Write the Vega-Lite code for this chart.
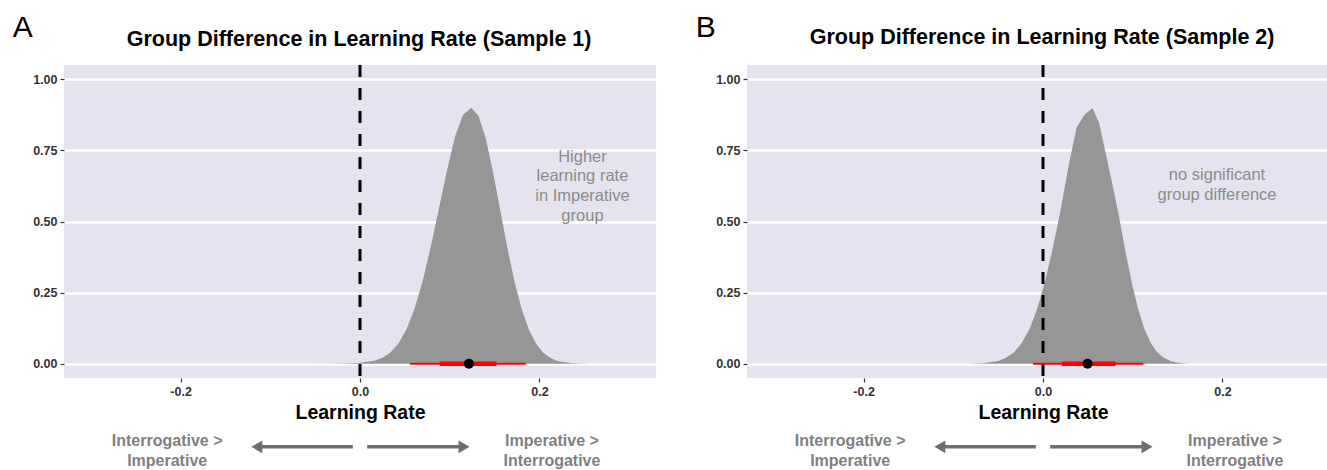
{
  "$schema": "https://vega.github.io/schema/vega-lite/v6.json",
  "background": "white",
  "padding": {"left": 12, "top": 12, "right": 0, "bottom": 0},
  "spacing": 39,
  "config": {
    "view": {"fill": "#e4e3ef", "stroke": null},
    "axis": {"domain": false, "tickColor": "#333333", "tickSize": 4, "tickWidth": 1.2, "labelColor": "#333333", "labelFont": "Liberation Sans", "labelFontSize": 12.5, "labelFontWeight": "bold", "labelPadding": 3, "titleFont": "Liberation Sans", "titleFontSize": 19.5, "titleFontWeight": "bold", "titleColor": "black"},
    "axisX": {"grid": false, "titlePadding": 6},
    "axisY": {"grid": true, "gridColor": "white", "gridWidth": 2.5}
  },
  "hconcat": [
    {
      "width": 592, "height": 313,
      "layer": [
        {
          "data": {"values": [
            {"x": -0.05, "density": 0.0}, {"x": -0.02, "density": 0.001}, {"x": -0.002, "density": 0.003}, {"x": 0.016, "density": 0.011}, {"x": 0.025, "density": 0.021}, {"x": 0.034, "density": 0.04}, {"x": 0.043, "density": 0.072}, {"x": 0.052, "density": 0.122}, {"x": 0.061, "density": 0.195}, {"x": 0.07, "density": 0.292}, {"x": 0.079, "density": 0.412}, {"x": 0.088, "density": 0.546}, {"x": 0.097, "density": 0.679}, {"x": 0.106, "density": 0.8}, {"x": 0.115, "density": 0.875}, {"x": 0.124, "density": 0.9}, {"x": 0.132, "density": 0.872}, {"x": 0.14, "density": 0.794}, {"x": 0.148, "density": 0.679}, {"x": 0.156, "density": 0.546}, {"x": 0.164, "density": 0.412}, {"x": 0.172, "density": 0.292}, {"x": 0.18, "density": 0.195}, {"x": 0.188, "density": 0.122}, {"x": 0.196, "density": 0.072}, {"x": 0.204, "density": 0.04}, {"x": 0.212, "density": 0.021}, {"x": 0.22, "density": 0.01}, {"x": 0.236, "density": 0.002}, {"x": 0.258, "density": 0.0}
          ]},
          "mark": {"type": "area", "color": "#969696", "opacity": 1},
          "encoding": {
            "x": {"field": "x", "type": "quantitative", "scale": {"domain": [-0.33, 0.33], "nice": false, "zero": false}, "axis": {"values": [-0.2, 0, 0.2], "labelExpr": "(datum.value < 0 ? '-' : '') + format(abs(datum.value), '.1f')"}, "title": "Learning Rate"},
            "y": {"field": "density", "type": "quantitative", "stack": null, "scale": {"domain": [-0.05, 1.05], "nice": false, "zero": false}, "axis": {"values": [0, 0.25, 0.5, 0.75, 1], "format": ".2f"}, "title": null},
            "y2": {"datum": 0}
          }
        },
        {
          "data": {"values": [{"x": 0}]},
          "mark": {"type": "rule", "color": "black", "strokeWidth": 3, "strokeDash": [12, 11]},
          "encoding": {"x": {"field": "x", "type": "quantitative"}}
        },
        {
          "data": {"values": [{"lo": 0.0556, "hi": 0.185, "level": "95%"}, {"lo": 0.0889, "hi": 0.152, "level": "66%"}]},
          "mark": {"type": "rule", "color": "#ff0000"},
          "encoding": {
            "x": {"field": "lo", "type": "quantitative"}, "x2": {"field": "hi"},
            "y": {"datum": 0},
            "strokeWidth": {"field": "level", "type": "nominal", "scale": {"domain": ["95%", "66%"], "range": [2, 4.5]}, "legend": null}
          }
        },
        {
          "data": {"values": [{"median": 0.1215, "y": 0}]},
          "mark": {"type": "circle", "color": "black", "opacity": 1, "size": 100},
          "encoding": {"x": {"field": "median", "type": "quantitative"}, "y": {"field": "y", "type": "quantitative"}}
        },
        {
          "data": {"values": [{"x": 0.248, "y": 0.727, "label": "Higher"}, {"x": 0.248, "y": 0.66, "label": "learning rate"}, {"x": 0.248, "y": 0.59, "label": "in Imperative"}, {"x": 0.248, "y": 0.52, "label": "group"}]},
          "mark": {"type": "text", "font": "Liberation Sans", "fontSize": 16.5, "color": "#8c8c8c", "align": "center", "baseline": "middle"},
          "encoding": {"x": {"field": "x", "type": "quantitative"}, "y": {"field": "y", "type": "quantitative"}, "text": {"field": "label"}}
        },
        {
          "data": {"values": [{"x": -0.215, "y": -0.271, "label": "Interrogative >"}, {"x": -0.215, "y": -0.342, "label": "Imperative"}, {"x": 0.214, "y": -0.271, "label": "Imperative >"}, {"x": 0.214, "y": -0.342, "label": "Interrogative"}]},
          "mark": {"type": "text", "font": "Liberation Sans", "fontSize": 16, "fontWeight": "bold", "color": "#7f7f7f", "align": "center", "baseline": "middle"},
          "encoding": {"x": {"field": "x", "type": "quantitative"}, "y": {"field": "y", "type": "quantitative"}, "text": {"field": "label"}}
        },
        {
          "data": {"values": [{"x": -0.008, "x2": -0.115, "y": -0.292}, {"x": 0.008, "x2": 0.116, "y": -0.292}]},
          "mark": {"type": "rule", "color": "#6e6e6e", "strokeWidth": 3.5},
          "encoding": {"x": {"field": "x", "type": "quantitative"}, "x2": {"field": "x2"}, "y": {"field": "y", "type": "quantitative"}}
        },
        {
          "data": {"values": [{"x": -0.115, "y": -0.292, "dir": "left"}, {"x": 0.116, "y": -0.292, "dir": "right"}]},
          "mark": {"type": "point", "filled": true, "color": "#6e6e6e", "opacity": 1, "size": 160},
          "encoding": {"x": {"field": "x", "type": "quantitative"}, "y": {"field": "y", "type": "quantitative"}, "shape": {"field": "dir", "type": "nominal", "scale": {"domain": ["left", "right"], "range": ["triangle-left", "triangle-right"]}, "legend": null}}
        },
        {
          "data": {"values": [{"x": -0.001, "y": 1.138, "label": "Group Difference in Learning Rate (Sample 1)"}]},
          "mark": {"type": "text", "font": "Liberation Sans", "fontSize": 21.5, "fontWeight": "bold", "color": "black", "align": "center", "baseline": "middle"},
          "encoding": {"x": {"field": "x", "type": "quantitative"}, "y": {"field": "y", "type": "quantitative"}, "text": {"field": "label"}}
        },
        {
          "data": {"values": [{"x": -0.387, "y": 1.149, "label": "A"}]},
          "mark": {"type": "text", "font": "Liberation Sans", "fontSize": 30, "color": "black", "align": "left", "baseline": "alphabetic"},
          "encoding": {"x": {"field": "x", "type": "quantitative"}, "y": {"field": "y", "type": "quantitative"}, "text": {"field": "label"}}
        }
      ]
    },
    {
      "width": 592, "height": 313,
      "layer": [
        {
          "data": {"values": [
            {"x": -0.09, "density": 0.0}, {"x": -0.085, "density": 0.0003}, {"x": -0.0675, "density": 0.002}, {"x": -0.05, "density": 0.01}, {"x": -0.0413, "density": 0.021}, {"x": -0.0325, "density": 0.04}, {"x": -0.0238, "density": 0.072}, {"x": -0.015, "density": 0.122}, {"x": -0.0063, "density": 0.195}, {"x": 0.0025, "density": 0.292}, {"x": 0.0113, "density": 0.412}, {"x": 0.02, "density": 0.546}, {"x": 0.0288, "density": 0.7}, {"x": 0.0375, "density": 0.83}, {"x": 0.0463, "density": 0.875}, {"x": 0.055, "density": 0.898}, {"x": 0.0623, "density": 0.85}, {"x": 0.0695, "density": 0.745}, {"x": 0.0768, "density": 0.64}, {"x": 0.084, "density": 0.53}, {"x": 0.0913, "density": 0.405}, {"x": 0.0985, "density": 0.292}, {"x": 0.1058, "density": 0.195}, {"x": 0.113, "density": 0.122}, {"x": 0.1203, "density": 0.072}, {"x": 0.1275, "density": 0.04}, {"x": 0.1348, "density": 0.021}, {"x": 0.142, "density": 0.01}, {"x": 0.152, "density": 0.003}, {"x": 0.163, "density": 0.0}
          ]},
          "mark": {"type": "area", "color": "#969696", "opacity": 1},
          "encoding": {
            "x": {"field": "x", "type": "quantitative", "scale": {"domain": [-0.33, 0.33], "nice": false, "zero": false}, "axis": {"values": [-0.2, 0, 0.2], "labelExpr": "(datum.value < 0 ? '-' : '') + format(abs(datum.value), '.1f')"}, "title": "Learning Rate"},
            "y": {"field": "density", "type": "quantitative", "stack": null, "scale": {"domain": [-0.05, 1.05], "nice": false, "zero": false}, "axis": {"values": [0, 0.25, 0.5, 0.75, 1], "format": ".2f"}, "title": null},
            "y2": {"datum": 0}
          }
        },
        {
          "data": {"values": [{"x": 0}]},
          "mark": {"type": "rule", "color": "black", "strokeWidth": 3, "strokeDash": [12, 11]},
          "encoding": {"x": {"field": "x", "type": "quantitative"}}
        },
        {
          "data": {"values": [{"lo": -0.011, "hi": 0.112, "level": "95%"}, {"lo": 0.021, "hi": 0.081, "level": "66%"}]},
          "mark": {"type": "rule", "color": "#ff0000"},
          "encoding": {
            "x": {"field": "lo", "type": "quantitative"}, "x2": {"field": "hi"},
            "y": {"datum": 0},
            "strokeWidth": {"field": "level", "type": "nominal", "scale": {"domain": ["95%", "66%"], "range": [2, 4.5]}, "legend": null}
          }
        },
        {
          "data": {"values": [{"median": 0.0497, "y": 0}]},
          "mark": {"type": "circle", "color": "black", "opacity": 1, "size": 100},
          "encoding": {"x": {"field": "median", "type": "quantitative"}, "y": {"field": "y", "type": "quantitative"}}
        },
        {
          "data": {"values": [{"x": 0.194, "y": 0.664, "label": "no significant"}, {"x": 0.194, "y": 0.594, "label": "group difference"}]},
          "mark": {"type": "text", "font": "Liberation Sans", "fontSize": 16.5, "color": "#8c8c8c", "align": "center", "baseline": "middle"},
          "encoding": {"x": {"field": "x", "type": "quantitative"}, "y": {"field": "y", "type": "quantitative"}, "text": {"field": "label"}}
        },
        {
          "data": {"values": [{"x": -0.215, "y": -0.271, "label": "Interrogative >"}, {"x": -0.215, "y": -0.342, "label": "Imperative"}, {"x": 0.214, "y": -0.271, "label": "Imperative >"}, {"x": 0.214, "y": -0.342, "label": "Interrogative"}]},
          "mark": {"type": "text", "font": "Liberation Sans", "fontSize": 16, "fontWeight": "bold", "color": "#7f7f7f", "align": "center", "baseline": "middle"},
          "encoding": {"x": {"field": "x", "type": "quantitative"}, "y": {"field": "y", "type": "quantitative"}, "text": {"field": "label"}}
        },
        {
          "data": {"values": [{"x": -0.008, "x2": -0.115, "y": -0.292}, {"x": 0.008, "x2": 0.116, "y": -0.292}]},
          "mark": {"type": "rule", "color": "#6e6e6e", "strokeWidth": 3.5},
          "encoding": {"x": {"field": "x", "type": "quantitative"}, "x2": {"field": "x2"}, "y": {"field": "y", "type": "quantitative"}}
        },
        {
          "data": {"values": [{"x": -0.115, "y": -0.292, "dir": "left"}, {"x": 0.116, "y": -0.292, "dir": "right"}]},
          "mark": {"type": "point", "filled": true, "color": "#6e6e6e", "opacity": 1, "size": 160},
          "encoding": {"x": {"field": "x", "type": "quantitative"}, "y": {"field": "y", "type": "quantitative"}, "shape": {"field": "dir", "type": "nominal", "scale": {"domain": ["left", "right"], "range": ["triangle-left", "triangle-right"]}, "legend": null}}
        },
        {
          "data": {"values": [{"x": -0.001, "y": 1.145, "label": "Group Difference in Learning Rate (Sample 2)"}]},
          "mark": {"type": "text", "font": "Liberation Sans", "fontSize": 21.5, "fontWeight": "bold", "color": "black", "align": "center", "baseline": "middle"},
          "encoding": {"x": {"field": "x", "type": "quantitative"}, "y": {"field": "y", "type": "quantitative"}, "text": {"field": "label"}}
        },
        {
          "data": {"values": [{"x": -0.387, "y": 1.149, "label": "B"}]},
          "mark": {"type": "text", "font": "Liberation Sans", "fontSize": 30, "color": "black", "align": "left", "baseline": "alphabetic"},
          "encoding": {"x": {"field": "x", "type": "quantitative"}, "y": {"field": "y", "type": "quantitative"}, "text": {"field": "label"}}
        }
      ]
    }
  ]
}
